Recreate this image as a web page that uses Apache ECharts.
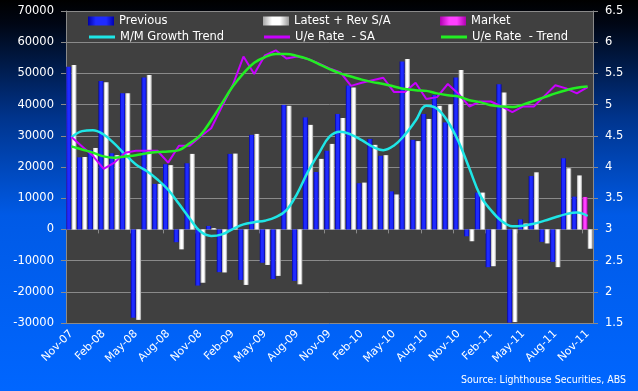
<!DOCTYPE html>
<html>
<head>
<meta charset="utf-8">
<script src="https://cdn.jsdelivr.net/npm/echarts@6/dist/echarts.min.js"></script>
<style>
html,body{margin:0;padding:0;background:#000;}
#chart{width:638px;height:391px;}
</style>
</head>
<body>
<div id="chart"></div>
<script>
const categories = ['Nov-07','Dec-07','Jan-08','Feb-08','Mar-08','Apr-08','May-08','Jun-08','Jul-08','Aug-08','Sep-08','Oct-08',
  'Nov-08','Dec-08','Jan-09','Feb-09','Mar-09','Apr-09','May-09','Jun-09','Jul-09','Aug-09','Sep-09','Oct-09',
  'Nov-09','Dec-09','Jan-10','Feb-10','Mar-10','Apr-10','May-10','Jun-10','Jul-10','Aug-10','Sep-10','Oct-10',
  'Nov-10','Dec-10','Jan-11','Feb-11','Mar-11','Apr-11','May-11','Jun-11','Jul-11','Aug-11','Sep-11','Oct-11','Nov-11'];

const previous = [52100,23100,25400,47600,24400,43600,-28300,48700,14600,20900,-4100,21200,
  -18000,1100,-13700,24200,-16200,30300,-10700,-15900,39900,-16500,35900,18400,
  25200,37000,46100,14800,29000,23600,12200,53800,28700,37000,43100,34300,
  48700,-2200,11800,-12100,46500,-29900,3200,17100,-4000,-10400,22800,10500,null];

const latest = [52700,23200,26100,47200,23800,43600,-29000,49500,14600,20600,-6400,24200,
  -17100,400,-13800,24300,-17800,30600,-11400,-14900,39600,-17600,33500,22600,
  27400,35700,45500,15000,27100,23800,11200,54600,28300,35400,39600,40100,
  51100,-3800,11800,-11800,43900,-29700,1900,18300,-4500,-12100,19600,17300,-6200];

const market = [null,null,null,null,null,null,null,null,null,null,null,null,
  null,null,null,null,null,null,null,null,null,null,null,null,
  null,null,null,null,null,null,null,null,null,null,null,null,
  null,null,null,null,null,null,null,null,null,null,null,null,10400];

const mmGrowthTrend = [29500,31500,31800,30400,27500,24000,20800,18700,16000,12700,8200,3500,
  -700,-2100,-1600,100,1600,2300,2800,3900,6200,11500,18500,24300,
  29700,31300,30400,28600,26500,25400,26900,30300,34800,39600,38700,34600,
  28100,19600,11000,6200,2700,1000,1200,1800,2800,3900,4900,5400,4300];

const ueRateSA = [4.48,4.33,4.18,3.97,4.07,4.23,4.26,4.26,4.26,4.07,4.34,4.34,
  4.49,4.62,4.97,5.31,5.77,5.49,5.79,5.87,5.74,5.77,5.73,5.66,
  5.58,5.52,5.30,5.35,5.39,5.43,5.20,5.20,5.35,5.09,5.12,5.33,
  5.17,4.97,5.05,5.05,4.97,4.88,4.97,4.97,5.14,5.31,5.26,5.18,5.28];

const ueRateTrend = [4.33,4.28,4.23,4.17,4.15,4.17,4.19,4.22,4.24,4.25,4.27,4.38,
  4.51,4.75,5.02,5.29,5.50,5.67,5.76,5.81,5.81,5.78,5.73,5.65,
  5.57,5.50,5.45,5.40,5.36,5.33,5.29,5.25,5.23,5.22,5.18,5.15,
  5.13,5.07,5.04,4.99,4.97,4.96,5.00,5.06,5.12,5.18,5.23,5.27,5.29];

const leftTicks = {min: -30000, max: 70000, interval: 10000};
const rightTicks = {min: 1.5, max: 6.5, interval: 0.5};

const FONT = 'DejaVu Sans';
const hGrad = (stops) => ({type:'linear', x:0, y:0, x2:1, y2:0, colorStops: stops.map((c)=>({offset:c[0], color:c[1]}))});
const blueFill = hGrad([[0,'#0000a8'],[0.3,'#1f2bff'],[0.7,'#1f2bff'],[1,'#0000b0']]);
const whiteFill = hGrad([[0,'#a8a8a8'],[0.35,'#ffffff'],[0.65,'#ffffff'],[1,'#9a9a9a']]);
const magentaFill = hGrad([[0,'#b000b0'],[0.35,'#ff40ff'],[0.65,'#ff40ff'],[1,'#b000b0']]);

const chart = echarts.init(document.getElementById('chart'), null, {renderer:'canvas'});

function oneLegend(name, left, top, isBar) {
  return {
    data: [name], left: left, top: top, padding: 0,
    itemWidth: 26, itemHeight: isBar ? 9 : 3, itemGap: 0,
    icon: 'rect',
    textStyle: {color:'#ffffff', fontFamily: FONT, fontSize: 11.5},
    selectedMode: false
  };
}

const option = {
  animation: false,
  backgroundColor: {type:'linear', x:0, y:0, x2:0, y2:1, colorStops:[
    {offset:0, color:'#000000'},{offset:0.06, color:'#000614'},{offset:0.3, color:'#00348c'},
    {offset:0.55, color:'#005ae6'},{offset:1, color:'#0066ff'}]},
  textStyle: {fontFamily: FONT},
  grid: {left: 66, right: 45, top: 11, bottom: 68, show: true, backgroundColor: '#404040', borderWidth: 0},
  legend: [
    oneLegend('Previous', 88, 15, true),
    oneLegend('Latest + Rev S/A', 263, 15, true),
    oneLegend('Market', 440, 15, true),
    oneLegend('M/M Growth Trend', 89, 31, false),
    oneLegend('U/e Rate  - SA', 264, 31, false),
    oneLegend('U/e Rate  - Trend', 441, 31, false)
  ],
  xAxis: [
    {type:'category', data: categories, position:'bottom', boundaryGap: true,
     axisLine: {show:true, onZero:true, onZeroAxisIndex:0, lineStyle:{color:'#8a8a8a', width:1}},
     axisTick: {show:true, interval:2, length:4, lineStyle:{color:'#8a8a8a'}},
     axisLabel: {show:false}, splitLine:{show:false}},
    {type:'category', data: categories, position:'bottom', boundaryGap: true,
     axisLine: {show:false, onZero:false}, axisTick:{show:false}, splitLine:{show:false},
     axisLabel: {show:true, interval:2, rotate:45, margin:9, color:'#ffffff', fontFamily: FONT, fontSize:11}}
  ],
  yAxis: [
    {type:'value', min: leftTicks.min, max: leftTicks.max, interval: leftTicks.interval, position:'left',
     axisLine:{show:true, lineStyle:{color:'#8a8a8a'}},
     axisTick:{show:true, length:5, lineStyle:{color:'#8a8a8a'}},
     axisLabel:{color:'#ffffff', fontFamily: FONT, fontSize:11.5, margin:12, formatter: (v) => String(v)},
     splitLine:{show:true, lineStyle:{color:'#8a8a8a', width:1}}},
    {type:'value', min: rightTicks.min, max: rightTicks.max, interval: rightTicks.interval, position:'right',
     axisLine:{show:true, lineStyle:{color:'#8a8a8a'}},
     axisTick:{show:true, length:5, lineStyle:{color:'#8a8a8a'}},
     axisLabel:{color:'#ffffff', fontFamily: FONT, fontSize:11.5, margin:12, formatter: (v) => String(v)},
     splitLine:{show:false}}
  ],
  graphic: [
    {type:'text', right: 12, top: 375, style:{text:'Source: Lighthouse Securities, ABS', fill:'#ffffff',
      font: '10.5px "DejaVu Sans Condensed", "DejaVu Sans"'}}
  ],
  series: [
    {name:'Previous', type:'bar', xAxisIndex:0, yAxisIndex:0, stack:'prev', data: previous,
     barGap:'4%', barCategoryGap:'4%', itemStyle:{color: blueFill}},
    {name:'Latest + Rev S/A', type:'bar', xAxisIndex:0, yAxisIndex:0, data: latest,
     barGap:'4%', barCategoryGap:'4%', itemStyle:{color: whiteFill}},
    {name:'Market', type:'bar', xAxisIndex:0, yAxisIndex:0, stack:'prev', data: market,
     barGap:'4%', barCategoryGap:'4%', itemStyle:{color: magentaFill}},
    {name:'M/M Growth Trend', type:'line', xAxisIndex:0, yAxisIndex:0, data: mmGrowthTrend, smooth:0.4,
     symbol:'none', lineStyle:{color:'#1ee6e6', width:2.5}, itemStyle:{color:'#1ee6e6'}},
    {name:'U/e Rate  - SA', type:'line', xAxisIndex:0, yAxisIndex:1, data: ueRateSA,
     symbol:'none', lineStyle:{color:'#c800ff', width:2}, itemStyle:{color:'#c800ff'}},
    {name:'U/e Rate  - Trend', type:'line', xAxisIndex:0, yAxisIndex:1, data: ueRateTrend, smooth:0.4,
     symbol:'none', lineStyle:{color:'#22ee22', width:2.5}, itemStyle:{color:'#22ee22'}}
  ]
};
chart.setOption(option);
</script>
</body>
</html>
